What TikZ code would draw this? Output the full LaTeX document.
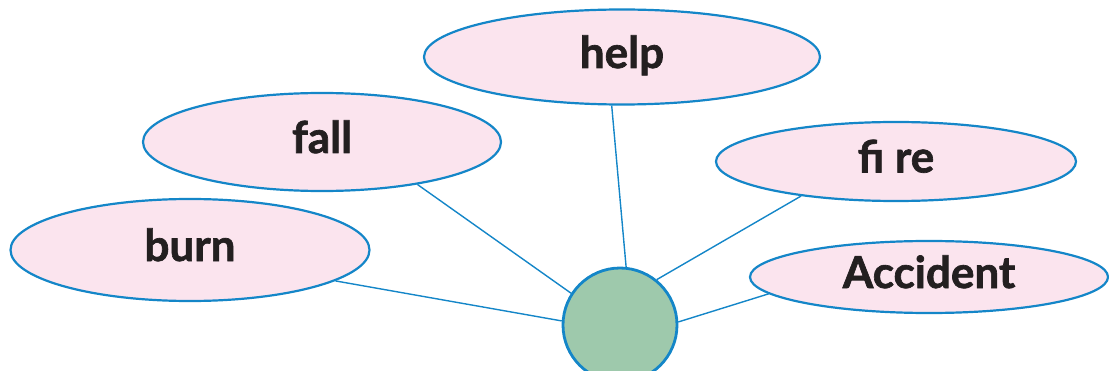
\documentclass[tikz,border=0pt]{standalone}
\usepackage{fontspec}
\setmainfont{Lato}[BoldFeatures={FakeBold=1.5}]
\usetikzlibrary{shapes.geometric}
\definecolor{pinkfill}{RGB}{251,228,238}
\definecolor{blueline}{RGB}{20,134,200}
\definecolor{greenfill}{RGB}{158,201,172}
\definecolor{inkcol}{RGB}{35,31,32}
\tikzset{
  word/.style={ellipse, draw=blueline, fill=pinkfill, line width=2.2pt, inner sep=0pt,
    text=inkcol, font=\fontsize{44}{52}\selectfont\bfseries, text height=32pt, text depth=10pt},
  hub/.style={circle, draw=blueline, fill=greenfill, line width=2.8pt, inner sep=0pt, minimum size=114pt},
  link/.style={draw=blueline, line width=1.4pt}
}
\begin{document}
\begin{tikzpicture}[x=1pt,y=1pt]
\useasboundingbox (0,0) rectangle (1109,370);
\node[word, minimum width=396pt, minimum height=95pt] (help) at (622,313) {help};
\node[word, minimum width=358pt, minimum height=98pt] (fall) at (322,228) {fall};
\node[word, minimum width=360pt, minimum height=79pt] (fire) at (896,208.5) {fi re};
\node[word, minimum width=358pt, minimum height=72pt] (acc) at (929,93) {Accident};
\node[word, minimum width=359pt, minimum height=102pt] (burn) at (190,120) {burn};
\node[hub] (c) at (620,45) {};
\draw[link] (c.176) -- (burn.-12);
\draw[link] (c.147) -- (fall.-24);
\draw[link] (c.84) -- (help.258);
\draw[link] (c.51) -- (fire.200);
\draw[link] (c.3) -- (acc.186);
\end{tikzpicture}
\end{document}
